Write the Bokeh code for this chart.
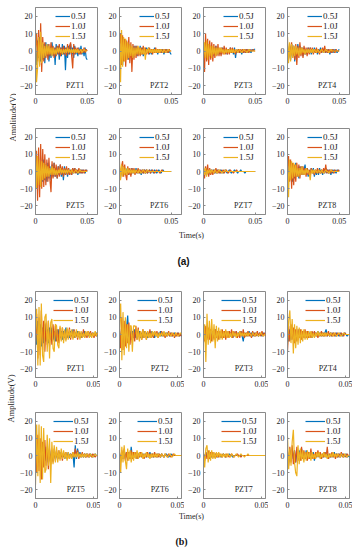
import numpy as np
from bokeh.plotting import figure
from bokeh.models import Range1d, FixedTicker, Legend, LegendItem, Label
from bokeh.layouts import row, column
from bokeh.embed import file_html
from bokeh.resources import INLINE

SERIES = ["0.5J", "1.0J", "1.5J"]
COLORS = ["#0072BD", "#D95319", "#EDB120"]
SENSORS = ["PZT1", "PZT2", "PZT3", "PZT4", "PZT5", "PZT6", "PZT7", "PZT8"]
DT = 0.001  # sampling step of the listed samples (s)
X_TICKS = [0, 0.05]
X_TICK_LABELS = {0: "0", 0.05: "0.05"}
Y_TICKS = [-20, -10, 0, 10, 20]

# ---------------- panel (a) ----------------
A_PZT1_05 = [0,-8,6,-4,8,-6,3,-5,4,-7,5,-3,4,-6,2,-4,5,-3,2,-8,4,-2,3,-5,2,-3,4,-2,3,-11,2,-4,3,-2,4,-3,2,-4,3,-2,1,-3,2,-2,3,-2,1,-3,2,-4,-5]
A_PZT1_10 = [2,10,-6,12,-8,16,-12,8,-6,5,-4,3,-5,4,-3,5,-2,3,-4,2,-3,3,-2,4,-3,2,-2,3,-2,2,-3,4,-2,3,5,-3,-10,4,-2,2,-1,2,-2,1,-2,1,-1,2,-1,1,0]
A_PZT1_15 = [12,-18,-10,8,-9,11,-7,5,-4,3,-3,4,-2,3,-2,2,-3,2,-2,1,-2,2,-1,2,-1,1,-2,1,-1,1,-1,2,-1,1,-1,1,-1,1,-1,1,-1,1,-1,0,1,-1,0,1,0,0,0]
A_PZT2_05 = [2,-6,5,-8,4,-5,6,-4,3,-5,4,-3,2,-4,3,-2,3,-3,2,-2,3,-2,2,-3,1,-2,2,-1,2,-2,1,-2,1,-1,2,-1,1,-2,1,-1,1,-1,1,-2,1,-1,1,-1,0,-1,-2]
A_PZT2_10 = [4,10,-8,9,-6,7,-9,6,-5,8,-7,5,-12,4,-5,3,-4,3,-3,2,-3,2,-2,3,-2,2,-2,1,-2,2,-1,1,-2,1,-1,2,-1,1,-1,1,-1,1,-1,1,-1,1,0,-1,1,0,0]
A_PZT2_15 = [14,-18,12,-9,8,-6,7,-5,5,-4,4,-3,3,-4,2,-3,2,-2,3,-2,2,-2,1,-2,2,-5,1,-1,2,-1,1,-1,1,-1,1,-1,1,-1,1,-1,1,0,-1,1,0,-1,0,1,0,0,0]
A_PZT3_05 = [1,-4,3,-3,4,-2,3,-3,2,-3,2,-2,3,-2,2,-2,1,-2,2,-1,2,-1,1,-2,1,-1,2,-1,1,-2,2,-4,1,-1,1,-1,1,-2,1,-1,1,-1,1,-1,1,0,-1,1,0,1,1]
A_PZT3_10 = [3,-12,10,-6,7,-8,6,-5,5,-6,4,-4,3,-3,4,-3,2,-3,2,-2,3,-2,2,-2,1,-2,2,-1,2,-1,1,-2,1,-1,1,-1,1,-1,1,-1,1,-1,1,0,-1,1,0,0,1,0,0]
A_PZT3_15 = [-5,5,-4,6,-5,4,-3,3,-4,3,-2,2,-3,2,-2,2,-1,2,-1,1,-2,1,-1,1,-1,1,-1,1,-1,1,-1,0,1,-1,0,1,0,-1,0,1,0,0,-1,0,1,0,0,0,0,0,0]
A_PZT4_05 = [2,-4,3,-5,4,-3,3,-6,2,-3,4,-2,3,-2,2,-3,2,-2,1,-2,2,-1,2,-2,1,-1,2,-1,1,-2,1,-1,2,-1,1,-1,1,-1,1,-1,1,-2,1,-1,1,-1,1,0,-1,0,1]
A_PZT4_10 = [1,-5,4,-3,5,-4,3,-5,4,-8,3,-4,5,-3,2,-4,3,-2,2,-3,2,-2,2,-1,2,-2,1,-1,2,-1,1,-2,1,-1,2,-1,3,-1,1,-1,1,-1,1,-1,1,0,-1,1,0,0,0]
A_PZT4_15 = [8,-7,5,-6,4,-4,3,-3,3,-2,2,-3,2,-2,2,-1,1,-2,1,-1,1,-1,1,-1,1,-1,1,0,-1,1,0,-1,0,1,0,-1,0,1,0,0,-1,0,1,0,0,0,0,0,0,0,0]
A_PZT5_05 = [3,-6,8,-7,6,-8,5,-6,7,-5,4,-6,5,-4,3,-5,4,-3,5,-3,2,-4,3,-2,4,-3,2,-5,3,-2,2,-3,2,-2,1,-2,2,-1,2,-1,1,-2,1,-1,1,-1,1,0,-1,1,0]
A_PZT5_10 = [-6,12,-17,14,-15,16,-10,13,-9,10,-8,7,-6,8,-5,-12,6,-4,5,-3,4,-4,3,-3,4,-2,3,-3,2,-2,3,-2,2,-2,1,-2,2,-1,2,-1,1,-1,2,-1,1,-1,1,-1,1,0,1]
A_PZT5_15 = [14,-10,9,-8,7,-9,6,-5,5,-4,4,-3,3,-3,2,-2,3,-2,2,-2,1,-2,1,-1,2,-1,1,-1,1,-1,1,-1,1,0,-1,1,0,-1,0,1,0,-1,0,1,0,0,0,0,0,0,0]
A_PZT6_05 = [1,-3,2,-2,3,-2,2,-1,2,-2,1,-2,2,-1,1,-1,2,-1,1,-1,1,-2,1,-1,1,-1,1,-1,0,1,-1,1,0,-1,1,0,-1,0,1,0,-1,0,1,0,0,0,0,0,0,0,0]
A_PZT6_10 = [2,-4,3,6,-3,4,-2,-5,3,-2,2,-3,2,-1,2,-2,1,-1,2,-1,1,-1,1,-1,1,-1,1,-1,0,1,-1,0,1,0,-1,0,1,0,0,-1,0,1,0,0,0,0,0,0,0,0,0]
A_PZT6_15 = [6,-5,4,-3,3,-2,2,-2,2,-1,1,-1,1,-1,1,-1,1,0,-1,1,0,-1,0,1,0,-1,0,1,0,0,0,0,0,0,0,0,0,0,0,0,0,0,0,0,0,0,0,0,0,0,0]
A_PZT7_05 = [1,-2,2,-1,1,-2,1,-1,1,-1,1,-1,1,-1,1,0,-1,1,0,-1,0,1,0,-1,0,1,0,-1,0,0,1,0,0,-1,0,0,1,0,0,0,-1,0,0,0,0,0,0,0,0,0,0]
A_PZT7_10 = [2,-4,3,-2,4,-3,2,-2,1,-2,1,-1,2,-1,1,-1,1,-1,0,1,-1,0,1,0,-1,0,1,0,0,-1,0,0,1,0,0,0,0,0,0,0,0,0,0,0,0,0,0,0,0,0,0]
A_PZT7_15 = [3,-2,2,-3,1,-1,1,-1,1,0,-1,1,0,-1,0,1,0,0,-1,0,0,1,0,0,0,0,0,0,0,0,0,0,0,0,0,0,0,0,0,0,0,0,0,0,0,0,0,0,0,0,0]
A_PZT8_05 = [3,-5,6,-4,5,-6,3,-4,5,-3,2,-4,3,-2,3,-2,1,4,-2,2,-3,1,-2,2,-1,2,-3,1,-2,1,-2,2,-1,1,-2,1,-1,2,-1,1,-1,1,-2,1,-1,1,0,-1,1,0,1]
A_PZT8_10 = [2,9,-6,7,-10,5,-8,4,-6,5,-3,4,-4,3,-2,3,-2,2,-3,2,-2,1,-2,2,-1,1,-2,1,-1,2,-1,1,-1,1,-1,2,-1,4,-1,1,-1,1,-1,1,0,-1,1,0,0,1,0]
A_PZT8_15 = [8,-15,7,-5,6,-4,5,-3,4,-3,2,-3,2,-2,3,-2,1,-2,2,-1,1,-1,-5,1,-1,1,-1,1,0,-1,1,0,-1,1,0,-1,0,1,0,0,-1,0,1,0,0,0,0,0,0,0,0]

# ---------------- panel (b) ----------------
B_PZT1_05 = [2,-6,8,-5,6,-7,4,-5,6,-4,3,-5,4,-3,4,-3,2,-4,3,-2,3,-2,2,-3,2,-2,4,-2,1,-2,2,-1,3,-2,1,-1,2,-1,1,-2,1,-1,2,-1,1,-1,1,-1,0,1,-1,0,1,-1]
B_PZT1_10 = [-4,12,-14,10,-12,14,-9,8,-10,7,-6,8,-7,5,-6,6,-4,5,-4,3,-5,4,-3,4,-3,2,-3,3,-2,4,-3,2,-2,3,-2,2,-3,2,-2,1,-2,3,-2,1,-2,2,-1,2,-1,1,-2,1,-1,1]
B_PZT1_15 = [3,15,-18,16,-18,18,-12,-16,10,12,-10,8,-14,7,9,-8,-10,6,5,-6,-8,5,-4,4,-5,3,-4,4,-3,3,-2,3,-3,2,-2,3,-2,2,-3,2,-2,1,-2,2,-1,2,-2,1,-2,1,-1,2,-1,1]
B_PZT2_05 = [1,-5,6,-4,5,-3,4,11,-3,2,-3,2,-2,3,-2,2,-1,2,-2,1,-2,2,-1,1,-2,1,-1,2,-1,1,-2,1,-1,1,-1,2,-1,1,-1,1,-1,1,0,-1,1,-1,0,1,-1,0,1,-1,0,-1]
B_PZT2_10 = [2,-8,10,-9,8,-7,6,-5,7,-6,4,-5,3,-4,5,-3,4,-3,2,-3,3,-2,2,-3,2,-2,3,-2,1,-2,2,-1,2,-2,1,-1,2,-1,1,-2,1,-1,2,-1,1,-1,1,-2,1,-1,1,-1,0,-1]
B_PZT2_15 = [4,18,-15,13,-12,10,-8,6,-10,5,5,-10,5,5,4,-3,3,-4,2,-3,3,-2,2,-3,2,-2,1,-2,2,-1,2,-1,1,-2,1,-1,1,-1,2,-1,1,-1,1,0,-1,1,0,-1,1,0,-1,0,1,0]
B_PZT3_05 = [1,-3,4,-2,3,-2,2,-3,2,-2,3,-1,2,-2,1,-2,2,-1,2,-2,1,-1,2,-1,1,-2,1,-1,2,-1,1,-1,2,-1,-4,1,-1,1,-1,2,-1,1,-1,1,-1,1,0,-1,1,0,-1,1,0,0]
B_PZT3_10 = [2,-4,5,-3,4,-3,3,-4,2,-3,3,-2,2,-3,2,-2,3,-2,2,-3,2,-2,2,-1,3,-2,2,-1,2,-2,1,-2,2,-1,3,-2,1,-1,2,-1,1,-2,2,-1,1,-1,2,-1,1,-1,2,-1,1,-1]
B_PZT3_15 = [-5,6,-16,12,-6,8,-5,9,-4,6,-8,5,-4,4,-3,3,-3,2,-2,3,-2,2,-2,1,-2,2,-1,1,-2,1,-1,2,-1,1,-1,1,-1,1,-1,1,0,-1,1,0,-1,1,0,-1,0,1,0,-1,0,0]
B_PZT4_05 = [2,-4,3,-3,4,-2,3,-3,2,-2,3,-2,2,-1,2,-2,1,-1,2,-1,1,-2,1,-1,1,-1,2,-1,1,-1,1,-1,1,3,-1,1,-1,1,-1,1,0,-1,1,0,-1,1,0,-1,0,1,0,-1,0,0]
B_PZT4_10 = [-10,5,-4,6,-3,4,-5,3,-4,3,-2,3,-3,2,-2,3,-2,2,-2,1,-2,2,-1,2,-1,1,-2,1,-1,2,-1,1,-1,1,-1,2,-1,1,-1,1,-1,1,-1,1,0,-1,1,0,-1,1,0,0,0,0]
B_PZT4_15 = [-6,8,14,-5,9,-11,6,-8,5,-6,4,-5,3,-4,3,-3,2,-3,2,-2,2,-2,1,-2,1,-1,2,-1,1,-1,1,-1,1,-1,1,0,-1,1,0,-1,1,0,-1,0,1,0,-1,0,1,0,0,0,0,0]
B_PZT5_05 = [2,-5,6,-4,5,-6,3,-4,5,-3,2,-4,3,-2,2,-3,2,-2,1,-2,2,-1,2,-1,1,-2,1,-1,2,-1,1,-1,1,-7,6,-2,4,-1,2,-1,1,-1,1,-1,1,0,-1,1,0,-1,0,1,0,0]
B_PZT5_10 = [4,-10,12,-9,10,-14,8,-7,9,-6,5,-8,4,-5,3,-4,4,-3,3,-2,3,-2,2,-3,2,-1,2,-2,1,-2,1,-1,2,-1,4,-1,3,-2,1,-1,2,-1,1,-1,1,-1,1,0,-1,1,0,-1,0,0]
B_PZT5_15 = [-17,18,-12,18,-16,17,-14,16,-10,-8,12,-6,10,-16,8,-5,6,-4,5,-4,3,-3,4,-2,3,-2,2,-3,2,-2,1,-2,2,-1,1,-1,2,-1,1,-1,1,-1,1,-1,1,0,-1,1,0,-1,0,1,0,0]
B_PZT6_05 = [1,-3,2,-2,3,-2,2,-1,2,-2,5,-1,2,-1,1,-2,1,-1,2,-1,1,-1,1,-1,1,-1,2,-1,1,-1,1,0,-1,1,0,-1,1,0,-1,0,1,0,-1,0,1,0,0,0,0,0,0,0,0,0]
B_PZT6_10 = [2,-4,3,-2,4,-3,2,-3,2,-2,3,-2,2,-1,2,-2,1,-1,2,-1,1,-2,1,-1,2,-1,1,-1,1,-1,2,-1,1,-1,1,-1,1,0,-1,1,0,-1,1,0,-1,0,1,0,0,0,0,0,0,0]
B_PZT6_15 = [6,-10,5,-4,6,-3,-8,4,-3,3,-4,2,-3,2,-2,3,-2,2,-1,2,-2,1,-1,2,-1,1,-2,1,-1,1,-1,1,-1,1,0,-1,1,0,-1,1,0,-1,0,1,0,-1,0,1,0,0,0,0,0,0]
B_PZT7_05 = [1,-2,2,-1,2,-1,1,-1,1,-1,1,0,-1,1,0,-1,0,1,0,-1,0,0,1,0,0,-1,0,0,0,0,0,0,0,0,0,0,0,0,0,0,0,0,0,0,0,0,0,0,0,0,0,0,0,0]
B_PZT7_10 = [1,-3,2,-2,3,-2,2,-1,2,-1,1,-1,1,-1,1,0,-1,1,0,-1,1,0,-1,0,1,0,-1,0,0,1,0,0,-1,0,0,0,0,0,0,0,0,0,0,0,0,0,0,0,0,0,0,0,0,0]
B_PZT7_15 = [2,-7,4,6,-4,3,-3,3,-2,2,-2,2,-1,2,-1,1,-1,1,-1,1,-1,1,0,-1,1,0,-1,0,1,0,-1,0,1,0,0,-1,0,0,1,0,0,0,0,0,0,0,0,0,0,0,0,0,0,0]
B_PZT8_05 = [2,-4,3,-3,4,-2,3,-4,2,-2,3,-2,4,-1,2,-2,3,-1,2,-2,1,-1,2,-3,1,-1,2,-1,1,-2,1,-1,2,-1,1,-2,1,-1,1,-1,2,-1,1,-1,1,-1,0,1,-1,0,1,-1,0,-1]
B_PZT8_10 = [3,-6,5,-4,6,-5,3,-4,5,-3,2,-3,5,-2,3,-2,2,-3,2,-2,4,-2,1,-2,2,-1,3,-1,2,-2,1,-1,2,-1,5,-2,1,-1,2,-1,1,-2,1,-1,1,-1,2,-1,1,0,-1,1,0,0]
B_PZT8_15 = [11,-8,4,-6,8,15,-4,-10,-12,6,-5,4,-3,3,-4,2,-3,3,-2,2,-3,2,-2,1,-2,2,-1,2,-2,1,-1,2,-1,1,-2,1,-1,1,-1,2,-1,1,-1,1,0,-1,1,0,-1,1,0,-1,0,0]

PANEL_A = [[A_PZT1_05, A_PZT1_10, A_PZT1_15], [A_PZT2_05, A_PZT2_10, A_PZT2_15],
           [A_PZT3_05, A_PZT3_10, A_PZT3_15], [A_PZT4_05, A_PZT4_10, A_PZT4_15],
           [A_PZT5_05, A_PZT5_10, A_PZT5_15], [A_PZT6_05, A_PZT6_10, A_PZT6_15],
           [A_PZT7_05, A_PZT7_10, A_PZT7_15], [A_PZT8_05, A_PZT8_10, A_PZT8_15]]
PANEL_B = [[B_PZT1_05, B_PZT1_10, B_PZT1_15], [B_PZT2_05, B_PZT2_10, B_PZT2_15],
           [B_PZT3_05, B_PZT3_10, B_PZT3_15], [B_PZT4_05, B_PZT4_10, B_PZT4_15],
           [B_PZT5_05, B_PZT5_10, B_PZT5_15], [B_PZT6_05, B_PZT6_10, B_PZT6_15],
           [B_PZT7_05, B_PZT7_10, B_PZT7_15], [B_PZT8_05, B_PZT8_10, B_PZT8_15]]

SERIF = "Liberation Serif"
TXT = "#262626"
BOX = "#8a8a8a"
PAGE_W = 352
YLAB_W = 16
# (figure width, left border, right border) of the four columns
COLS = [(84, 17, 3), (84, 17, 3), (84, 17, 3), (84, 17, 3)]


def subplot(series3, sensor, col, xmax, glyph_w, label_w, height, top, bottom, pzt_x):
    w, bl, br = col
    p = figure(width=w, height=height, x_range=Range1d(0, xmax), y_range=Range1d(-25, 25),
               output_backend="svg", toolbar_location=None,
               min_border_left=bl, min_border_right=br,
               min_border_top=top, min_border_bottom=bottom)
    p.xgrid.visible = False
    p.ygrid.visible = False
    p.outline_line_color = BOX
    p.outline_line_width = 1
    p.background_fill_color = "white"
    p.border_fill_color = "white"
    renderers = []
    for vals, c in zip(series3, COLORS):
        t = np.arange(len(vals)) * DT
        renderers.append(p.line(t, vals, line_color=c, line_width=1.2))
    for ax in (p.xaxis[0], p.yaxis[0]):
        ax.axis_line_color = BOX
        ax.major_tick_line_color = BOX
        ax.major_tick_in = 2
        ax.major_tick_out = 0
        ax.minor_tick_line_color = None
        ax.major_label_text_font = SERIF
        ax.major_label_text_font_size = "8px"
        ax.major_label_text_color = TXT
    p.xaxis.ticker = FixedTicker(ticks=X_TICKS)
    p.xaxis.major_label_overrides = X_TICK_LABELS
    p.xaxis.major_label_standoff = 3
    p.yaxis.ticker = FixedTicker(ticks=Y_TICKS)
    p.yaxis.major_label_standoff = 3
    items = [LegendItem(label=s, renderers=[r]) for s, r in zip(SERIES, renderers)]
    leg = Legend(items=items, location="top_right", border_line_color=None,
                 background_fill_alpha=0, label_text_font=SERIF,
                 label_text_font_size="9px", label_text_color=TXT,
                 glyph_width=glyph_w, glyph_height=8, label_height=8,
                 label_width=label_w, label_standoff=1, spacing=0,
                 padding=0, margin=4)
    p.add_layout(leg)
    p.add_layout(Label(x=pzt_x, y=-20, text=sensor, text_align="center",
                       text_baseline="middle", text_font=SERIF,
                       text_font_size="8px", text_color=TXT))
    return p


def text_fig(width, height, x0, y0, labels):
    f = figure(width=width, height=height, x_range=Range1d(x0, x0 + width),
               y_range=Range1d(y0 + height, y0), output_backend="svg",
               toolbar_location=None, x_axis_type=None, y_axis_type=None,
               min_border=0)
    f.xgrid.visible = False
    f.ygrid.visible = False
    f.outline_line_color = None
    for lab in labels:
        f.add_layout(lab)
    return f


def panel(data, xmax, glyph_w, label_w, rows_geom, y0, pzt_x, ylab_x, ylab_y):
    fig_rows = []
    for ri, (h, top, bot) in enumerate(rows_geom):
        figs = [subplot(data[ri * 4 + ci], SENSORS[ri * 4 + ci], COLS[ci], xmax, glyph_w,
                        label_w, h, top, bot, pzt_x) for ci in range(4)]
        fig_rows.append(row(*figs, spacing=0))
    total_h = sum(g[0] for g in rows_geom)
    ylab = text_fig(YLAB_W, total_h, 0, y0, [
        Label(x=ylab_x, y=ylab_y, text="Amplitude(V)", angle=np.pi / 2, text_align="center",
              text_baseline="middle", text_font=SERIF, text_font_size="8.5px",
              text_color=TXT)])
    return row(ylab, column(*fig_rows, spacing=0), spacing=0)


panel_a = panel(PANEL_A, 0.06, 15, 22, [(118, 7, 24), (110, 10, 14)], 0, 0.0384, 12, 117)
cap_a = text_fig(PAGE_W, 50, 0, 228, [
    Label(x=191, y=235, text="Time(s)", text_align="center", text_baseline="middle",
          text_font=SERIF, text_font_size="8px", text_color=TXT),
    Label(x=183, y=261, text="(a)", text_align="center", text_baseline="middle",
          text_font="Liberation Sans", text_font_style="bold", text_font_size="10px",
          text_color="#111111")])
panel_b = panel(PANEL_B, 0.053, 20, 19, [(121, 13, 22), (113, 13, 14)], 278, 0.0344, 10, 398)
cap_b = text_fig(PAGE_W, 36, 0, 512, [
    Label(x=191, y=516, text="Time(s)", text_align="center", text_baseline="middle",
          text_font=SERIF, text_font_size="8px", text_color=TXT),
    Label(x=181, y=541, text="(b)", text_align="center", text_baseline="middle",
          text_font=SERIF, text_font_style="bold", text_font_size="10px",
          text_color="#111111")])

layout = column(panel_a, cap_a, panel_b, cap_b, spacing=0)
open("out.html", "w").write(file_html(layout, INLINE))
